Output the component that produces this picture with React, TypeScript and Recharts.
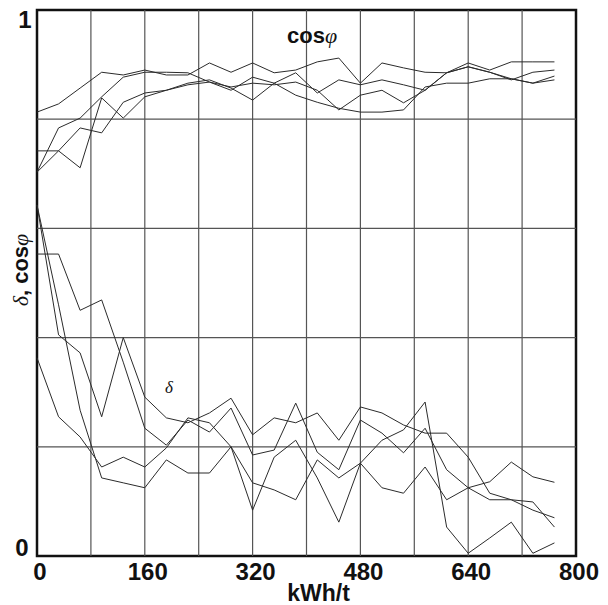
import React from 'react';
import { LineChart, Line, XAxis, YAxis, ReferenceLine, ReferenceArea } from 'recharts';

// specific energy, kWh/t (one reading every 32 kWh/t)
const energy = [0, 32, 64, 96, 128, 160, 192, 224, 256, 288, 320, 352, 384, 416, 448, 480, 512, 544, 576, 608, 640, 672, 704, 736, 768];

// power factor cos phi, four heats
const cosPhi1 = [0.813, 0.828, 0.857, 0.886, 0.881, 0.89, 0.881, 0.881, 0.903, 0.886, 0.903, 0.885, 0.89, 0.905, 0.912, 0.866, 0.903, 0.894, 0.886, 0.885, 0.903, 0.89, 0.905, 0.905, 0.905];
const cosPhi2 = [0.742, 0.742, 0.711, 0.839, 0.802, 0.841, 0.853, 0.866, 0.872, 0.857, 0.835, 0.866, 0.885, 0.848, 0.872, 0.863, 0.872, 0.863, 0.853, 0.885, 0.896, 0.886, 0.872, 0.886, 0.89];
const cosPhi3 = [0.703, 0.784, 0.802, 0.841, 0.877, 0.886, 0.886, 0.885, 0.868, 0.859, 0.866, 0.863, 0.868, 0.853, 0.817, 0.844, 0.853, 0.83, 0.853, 0.885, 0.896, 0.886, 0.874, 0.866, 0.872];
const cosPhi4 = [0.703, 0.742, 0.784, 0.775, 0.831, 0.848, 0.853, 0.863, 0.868, 0.853, 0.877, 0.866, 0.844, 0.831, 0.82, 0.813, 0.813, 0.817, 0.859, 0.866, 0.866, 0.874, 0.874, 0.866, 0.879];

// delta, four heats
const delta1 = [0.643, 0.405, 0.372, 0.255, 0.4, 0.291, 0.253, 0.244, 0.262, 0.289, 0.222, 0.253, 0.244, 0.262, 0.212, 0.273, 0.262, 0.24, 0.225, 0.225, 0.181, 0.115, 0.103, 0.099, 0.053];
const delta2 = [0.553, 0.553, 0.45, 0.469, 0.355, 0.234, 0.203, 0.249, 0.227, 0.271, 0.185, 0.194, 0.28, 0.19, 0.158, 0.249, 0.225, 0.189, 0.234, 0.158, 0.125, 0.136, 0.172, 0.145, 0.135];
const delta3 = [0.643, 0.46, 0.267, 0.143, 0.134, 0.125, 0.176, 0.152, 0.152, 0.2, 0.134, 0.121, 0.103, 0.176, 0.143, 0.17, 0.125, 0.115, 0.163, 0.103, 0.125, 0.103, 0.103, 0.084, 0.07];
const delta4 = [0.363, 0.255, 0.218, 0.163, 0.181, 0.163, 0.198, 0.253, 0.244, 0.2, 0.084, 0.181, 0.212, 0.143, 0.062, 0.17, 0.212, 0.231, 0.282, 0.053, 0.005, 0.033, 0.062, 0.005, 0.024];

const xTicks = [0, 160, 320, 480, 640, 800];
const yTicks = [0, 1];
const gridX = [80, 160, 240, 320, 400, 480, 560, 640, 720];
const gridY = [0.2, 0.4, 0.6, 0.8];

const seriesKeys = ['cos1', 'cos2', 'cos3', 'cos4', 'd1', 'd2', 'd3', 'd4'];
const seriesValues = [cosPhi1, cosPhi2, cosPhi3, cosPhi4, delta1, delta2, delta3, delta4];

const rows = energy.map((x, i) => {
  const row: { [key: string]: number } = { x };
  seriesKeys.forEach((k, s) => {
    row[k] = seriesValues[s][i];
  });
  return row;
});

const sans = '"Liberation Sans", Arial, sans-serif';
const serif = '"Liberation Serif", "DejaVu Serif", serif';

const XTick = (props: any) => {
  const { x, y, payload } = props;
  return (
    <text x={x + 3} y={y + 24} textAnchor="middle" fontFamily={sans} fontWeight="bold" fontSize={24} fill="#111">
      {payload.value}
    </text>
  );
};

const YTick = (props: any) => {
  const { x, y, payload } = props;
  const top = payload.value === 1;
  return (
    <text x={x - (top ? 12 : 15)} y={top ? y + 18 : y} textAnchor="middle" fontFamily={sans} fontWeight="bold" fontSize={24} fill="#111">
      {payload.value}
    </text>
  );
};

const XLabel = (props: any) => {
  const { viewBox } = props;
  return (
    <text x={viewBox.x + viewBox.width / 2 + 12} y={viewBox.y + 45} textAnchor="middle" fontFamily={sans} fontWeight="bold" fontSize={23} fill="#111">
      kWh/t
    </text>
  );
};

const YLabel = (props: any) => {
  const { viewBox } = props;
  const cx = viewBox.x + 16;
  const cy = 270;
  return (
    <text x={cx} y={cy} transform={`rotate(-90 ${cx} ${cy})`} textAnchor="middle" fontSize={22} fill="#111">
      <tspan fontFamily={serif} fontStyle="italic">δ</tspan>
      <tspan fontFamily={sans} fontWeight="bold">, cos</tspan>
      <tspan fontFamily={serif} fontStyle="italic">φ</tspan>
    </text>
  );
};

export default function App() {
  const lineColor = '#2b2b2b';
  return (
    <div style={{ position: 'relative', width: 608, height: 605 }}>
      <style>{'body { margin: 0; }'}</style>
      <LineChart width={608} height={605} data={rows} margin={{ top: 10, right: 32, left: 12, bottom: 4 }}>
        {gridX.map((v) => (
          <ReferenceLine key={`gx${v}`} x={v} stroke="#555" strokeWidth={1.2} />
        ))}
        {gridY.map((v) => (
          <ReferenceLine key={`gy${v}`} y={v} stroke="#555" strokeWidth={1.2} />
        ))}
        <XAxis
          dataKey="x"
          type="number"
          domain={[0, 800]}
          ticks={xTicks}
          interval={0}
          height={45}
          tickSize={0}
          tickMargin={0}
          tickLine={false}
          axisLine={false}
          tick={<XTick />}
          label={<XLabel />}
        />
        <YAxis
          type="number"
          domain={[0, 1]}
          ticks={yTicks}
          interval={0}
          width={25}
          tickSize={0}
          tickMargin={0}
          tickLine={false}
          axisLine={false}
          tick={<YTick />}
          label={<YLabel />}
        />
        <ReferenceArea x1={0} x2={800} y1={0} y2={1} fill="none" stroke="#111" strokeWidth={2.5} />
        {seriesKeys.map((k) => (
          <Line
            key={k}
            type="linear"
            dataKey={k}
            stroke={lineColor}
            strokeWidth={1}
            dot={false}
            isAnimationActive={false}
          />
        ))}
      </LineChart>
      <svg width={608} height={605} style={{ position: 'absolute', left: 0, top: 0, pointerEvents: 'none' }}>
        <text x={287} y={43} fontSize={22} fill="#111">
          <tspan fontFamily={sans} fontWeight="bold">cos</tspan>
          <tspan fontFamily={serif} fontStyle="italic">φ</tspan>
        </text>
        <text x={165} y={393} fontFamily={serif} fontStyle="italic" fontSize={17} fill="#111">
          δ
        </text>
      </svg>
    </div>
  );
}
